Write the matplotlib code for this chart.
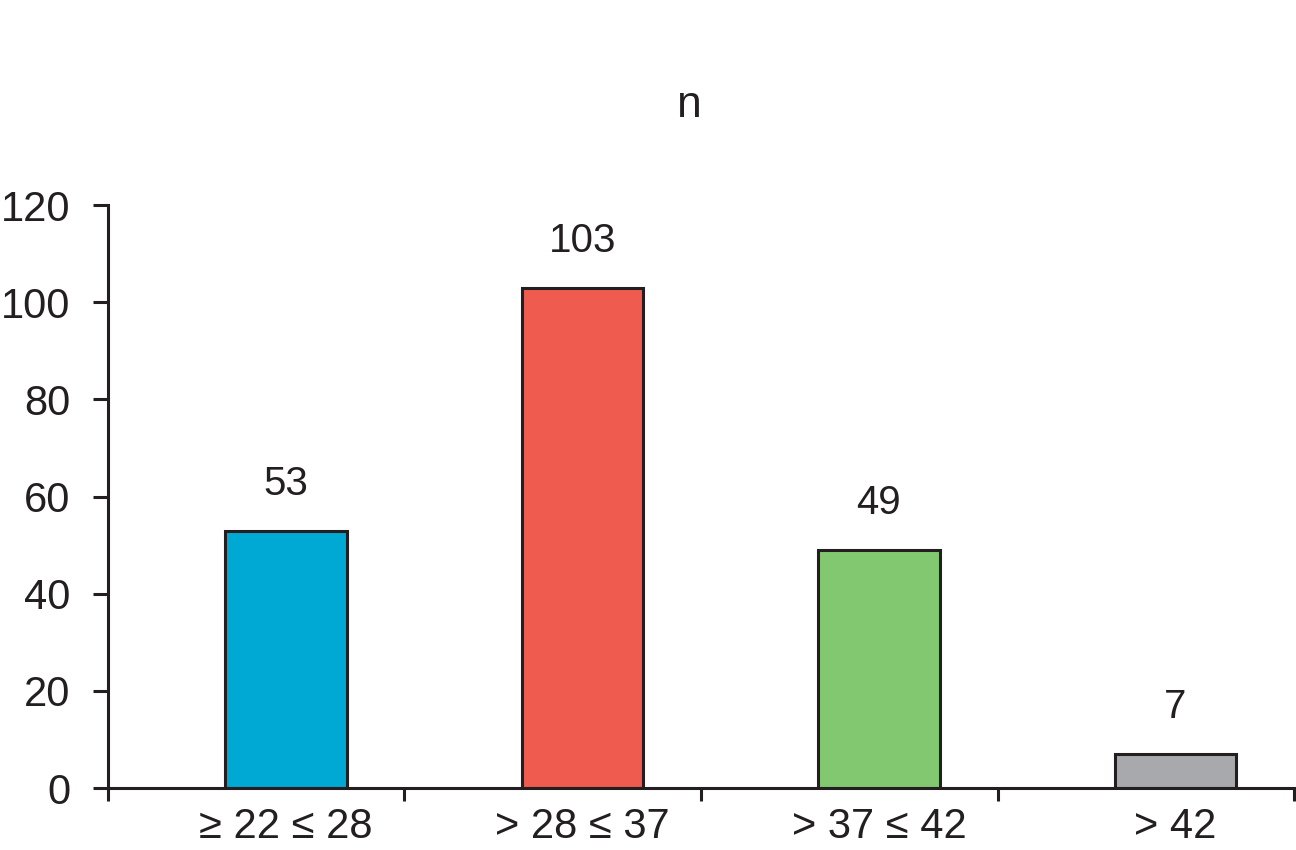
import matplotlib.pyplot as plt
import numpy as np

# Data
categories = ["\u2265 22 \u2264 28", "> 28 \u2264 37", "> 37 \u2264 42", "> 42"]
counts = [53, 103, 49, 7]
colors = ["#00A8D4", "#F05B50", "#82C870", "#A7A9AC"]

ink = "#231F20"
plt.rcParams["font.family"] = ["Liberation Sans", "DejaVu Sans"]

fig = plt.figure(figsize=(12.96, 8.5), dpi=100)
ax = fig.add_axes([0.0833, 0.0729, 0.9152, 0.6859])

# bars sit a little right of each category's centre
x = np.arange(len(categories)) + 0.1
ax.bar(x, counts, width=0.41, color=colors, edgecolor=ink, linewidth=2.2)

for xi, v in zip(x, counts):
    ax.annotate(str(v), (xi, v), xytext=(0, 20), textcoords="offset points",
                ha="center", va="bottom", fontsize=29, color=ink)

ax.set_xlim(-0.5, len(categories) - 0.5)
ax.set_ylim(0, 120)
ax.set_yticks(range(0, 121, 20))
ax.set_xticks(x)
ax.set_xticklabels(categories)
ax.set_xticks(np.arange(-0.5, len(categories)), minor=True)

ax.tick_params(axis="y", length=11, width=2.2, pad=16, labelsize=30, colors=ink)
ax.tick_params(axis="x", which="major", length=0, pad=14, labelsize=30, colors=ink)
ax.tick_params(axis="x", which="minor", length=9, width=2.2, color=ink)

for side in ["top", "right"]:
    ax.spines[side].set_visible(False)
for side in ["left", "bottom"]:
    ax.spines[side].set_linewidth(2.2)
    ax.spines[side].set_color(ink)

fig.text(0.532, 0.876, "n", ha="center", va="center", fontsize=32, color=ink)

fig.savefig("out.png", dpi=100)
